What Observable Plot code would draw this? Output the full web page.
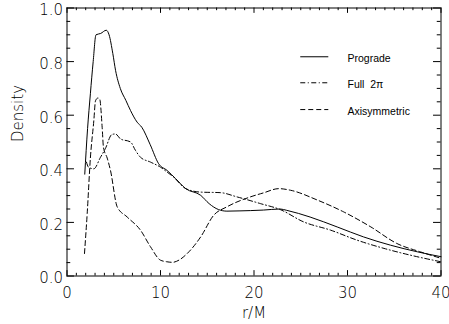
<!DOCTYPE html>
<html><head><meta charset="utf-8">
<script src="https://cdn.jsdelivr.net/npm/d3@7"></script>
<script src="https://cdn.jsdelivr.net/npm/@observablehq/plot@0.6"></script>
<style>body{margin:0;background:#fff}</style>
</head><body><div id="chart"></div>
<script>
// Prograde (solid)
const progradeR = [1.9, 2.2, 2.5, 2.8, 3.1, 3.6, 4.2, 4.5, 4.9, 5.2, 5.7, 6.3, 6.8, 7.5, 8.0, 8.9, 9.8, 10.7, 11.6, 12.7, 14.3, 15.2, 16.2, 17.1, 18.5, 19.6, 21.0, 22.8, 23.5, 26.0, 28.9, 31.7, 34.6, 37.5, 40];
const progradeD = [0.38, 0.55, 0.68, 0.80, 0.90, 0.905, 0.917, 0.90, 0.83, 0.766, 0.70, 0.655, 0.617, 0.574, 0.555, 0.49, 0.419, 0.394, 0.364, 0.326, 0.301, 0.27, 0.248, 0.242, 0.243, 0.244, 0.246, 0.25, 0.245, 0.22, 0.183, 0.146, 0.115, 0.09, 0.072];
// Full 2pi (dash-dot)
const fullR = [2.08, 2.3, 2.87, 3.58, 4.1, 4.8, 5.2, 5.7, 6.8, 7.3, 7.86, 8.93, 10.0, 10.7, 11.4, 12.7, 14.3, 16.4, 18.2, 20.7, 22.8, 25.3, 28.2, 31.0, 33.9, 36.7, 40];
const fullD = [0.425, 0.406, 0.40, 0.443, 0.475, 0.528, 0.53, 0.512, 0.50, 0.47, 0.443, 0.425, 0.406, 0.388, 0.369, 0.326, 0.313, 0.311, 0.295, 0.27, 0.248, 0.202, 0.171, 0.134, 0.103, 0.078, 0.053];
// Axisymmetric (dashed)
const axiR = [1.87, 2.16, 2.5, 2.87, 3.05, 3.3, 3.5, 3.76, 3.9, 4.3, 4.65, 5.37, 6.44, 7.86, 8.93, 10.0, 10.7, 11.3, 11.96, 12.86, 14.3, 15.7, 17.1, 19.6, 21.0, 22.65, 23.9, 26.8, 29.6, 32.5, 35.3, 37.8, 40];
const axiD = [0.084, 0.233, 0.44, 0.58, 0.654, 0.664, 0.66, 0.555, 0.48, 0.44, 0.394, 0.258, 0.22, 0.171, 0.109, 0.059, 0.053, 0.051, 0.059, 0.084, 0.146, 0.227, 0.258, 0.295, 0.31, 0.326, 0.32, 0.283, 0.239, 0.183, 0.121, 0.09, 0.066];

const seriesNames = ["Prograde", "Full  2\u03c0", "Axisymmetric"];
const seriesDash = [null, "5,2.5,1,2.5", "5,3"];

const xMajor = [0, 10, 20, 30, 40];
const xMinor = d3.range(0, 41, 1).filter(v => v % 10 !== 0);
const yMajor = [0.0, 0.2, 0.4, 0.6, 0.8, 1.0];
const yMinor = d3.range(0, 21, 1).map(i => i * 0.05).filter((v, i) => i % 4 !== 0);

const toRows = (R, D, s) => R.map((r, i) => ({r, d: D[i], s}));
const allSeries = [toRows(progradeR, progradeD, 0), toRows(fullR, fullD, 1), toRows(axiR, axiD, 2)];

// legend layout (in data units)
const legend = seriesNames.map((name, i) => ({name, i, y: [0.818, 0.721, 0.621][i]}));

const k = "black";
const lab = {fontSize: 15, fontWeight: 200, fill: k};
const marks = [
  Plot.frame({stroke: k, strokeWidth: 1}),
  // bottom ticks
  Plot.ruleX(xMajor, {x: d => d, y1: 0, y2: 0.02, stroke: k}),
  Plot.ruleX(xMinor, {x: d => d, y1: 0, y2: 0.01, stroke: k}),
  // top ticks
  Plot.ruleX(xMajor, {x: d => d, y1: 1, y2: 0.98, stroke: k}),
  Plot.ruleX(xMinor, {x: d => d, y1: 1, y2: 0.99, stroke: k}),
  // left ticks
  Plot.ruleY(yMajor, {y: d => d, x1: 0, x2: 0.8, stroke: k}),
  Plot.ruleY(yMinor, {y: d => d, x1: 0, x2: 0.4, stroke: k}),
  // right ticks
  Plot.ruleY(yMajor, {y: d => d, x1: 40, x2: 39.2, stroke: k}),
  Plot.ruleY(yMinor, {y: d => d, x1: 40, x2: 39.6, stroke: k}),
  // tick labels
  Plot.text(yMajor, {x: 0, y: d => d, text: d => d.toFixed(1), textAnchor: "end", dx: -4, dy: 2.5, ...lab}),
  Plot.text(xMajor, {x: d => d, y: 0, text: d => String(d), lineAnchor: "top", dy: 11, ...lab}),
  Plot.text(["r/M"], {frameAnchor: "bottom", text: d => d, lineAnchor: "middle", dy: 37, ...lab}),
  Plot.text(["Density"], {frameAnchor: "left", text: d => d, rotate: -90, dx: -48.5, ...lab}),
];
allSeries.forEach((rows, i) => {
  marks.push(Plot.line(rows, {x: "r", y: "d", stroke: k, strokeWidth: 1, curve: "monotone-x", strokeDasharray: seriesDash[i]}));
});
legend.forEach(l => {
  marks.push(Plot.ruleY([l.y], {x1: 25, x2: 28, y: d => d, stroke: k, strokeWidth: 1, strokeDasharray: seriesDash[l.i]}));
  marks.push(Plot.text([l.name], {x: 30, y: l.y, text: d => d, textAnchor: "start", dy: 2, fontSize: 10.5, fontFamily: "Liberation Sans", fill: k}));
});

const chart = Plot.plot({
  width: 449, height: 324,
  marginLeft: 66.5, marginRight: 8.5, marginTop: 7.5, marginBottom: 48.5,
  x: {domain: [0, 40], axis: null},
  y: {domain: [0, 1], axis: null},
  style: {fontFamily: "DejaVu Sans", background: "white", color: "black", overflow: "visible"},
  marks
});
document.getElementById("chart").appendChild(chart);
</script>
</body></html>
